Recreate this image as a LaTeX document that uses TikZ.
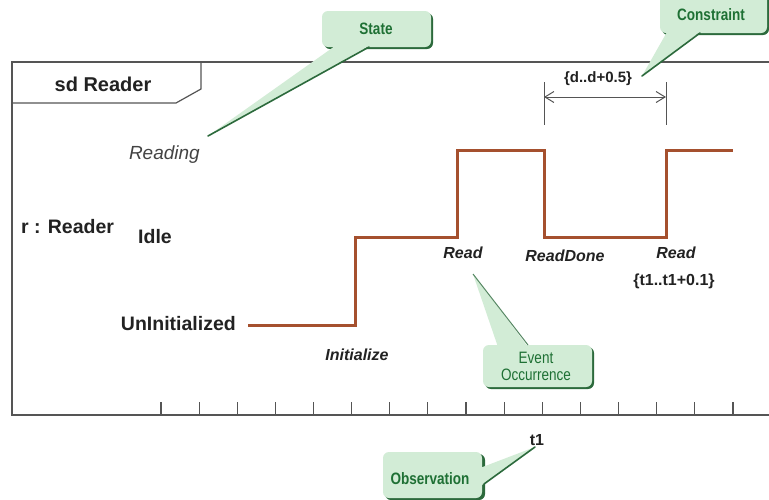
\documentclass[tikz,border=0pt]{standalone}
\usepackage{fontspec}
\setmainfont{Liberation Sans}
\usetikzlibrary{arrows.meta}

\definecolor{framegray}{HTML}{555555}
\definecolor{labelcol}{HTML}{222222}
\definecolor{signal}{HTML}{A5502E}
\definecolor{notefill}{HTML}{D2ECD6}
\definecolor{noteedge}{HTML}{2C6A3C}
\definecolor{notetext}{HTML}{1E7034}

\tikzset{
  frameline/.style={draw=framegray, line width=1.2pt},
  tickline/.style={draw=framegray, line width=1.1pt},
  signalline/.style={draw=signal, line width=3pt, line join=miter},
  dimline/.style={draw=framegray, line width=1pt},
  statename/.style={font=\fontsize{19.5}{21}\selectfont\bfseries, text=labelcol, inner sep=0pt},
  lifelinename/.style={font=\fontsize{19.5}{21}\selectfont\bfseries, text=labelcol, inner sep=0pt},
  activestate/.style={font=\fontsize{19}{21}\selectfont\itshape, text=labelcol!85, inner sep=0pt},
  eventname/.style={font=\fontsize{16}{18}\selectfont\bfseries\itshape, text=labelcol, inner sep=0pt},
  timetext/.style={font=\fontsize{16}{18}\selectfont\bfseries, text=labelcol, inner sep=0pt},
  notetextstyle/.style={font=\fontsize{16.5}{18}\selectfont\bfseries, text=notetext, inner sep=0pt},
  noteshadow/.style={fill=noteedge, rounded corners=6pt},
  notebody/.style={fill=notefill, rounded corners=6pt},
  notewedge/.style={fill=notefill},
  noteedgeline/.style={draw=noteedge, line width=1.6pt, line cap=round},
}

\newcommand{\narrow}[1]{\scalebox{0.82}[1]{#1}}

\begin{document}
\begin{tikzpicture}[x=1pt, y=-1pt]
  \clip (0,0) rectangle (769,499);
  \fill[white] (0,0) rectangle (769,499);

  % ---- diagram frame and its name tab ----
  \draw[frameline] (785,62) -- (12,62) -- (12,415) -- (785,415);
  \draw[frameline] (12,103) -- (176,103) -- (201,89) -- (201,62);
  \node[lifelinename] (title) at (103,84) {\fontsize{20}{22}\selectfont sd Reader};

  % ---- time ruler ----
  \foreach \i in {0,...,15}
    \draw[tickline] ({161+38.13*\i},402) -- ({161+38.13*\i},415);

  % ---- lifeline and state names ----
  \node[lifelinename, anchor=west] (lifeline) at (21,227) {r : Reader};
  \node[activestate, anchor=east] (sReading) at (200,155) {Reading};
  \node[statename, anchor=west] (sIdle) at (138,237) {Idle};
  \node[statename, anchor=east] (sUninit) at (236,324) {UnInitialized};

  % ---- state timeline ----
  \coordinate (p0) at (248,325);
  \coordinate (p1) at (355,325);
  \coordinate (p2) at (355,237);
  \coordinate (p3) at (457,237);
  \coordinate (p4) at (457,150);
  \coordinate (p5) at (544,150);
  \coordinate (p6) at (544,237);
  \coordinate (p7) at (666,237);
  \coordinate (p8) at (666,150);
  \coordinate (p9) at (733,150);
  \draw[signalline] (p0) -- (p1) -- (p2) -- (p3) -- (p4) -- (p5) -- (p6) -- (p7) -- (p8) -- (p9);

  % ---- event occurrences ----
  \node[eventname] (eInit) at (357,355) {Initialize};
  \node[eventname] (eRead1) at (463,253) {Read};
  \node[eventname] (eDone) at (565,256) {ReadDone};
  \node[eventname] (eRead2) at (676,253) {Read};
  \node[timetext] (tc) at (674,281) {\{t1..t1+0.1\}};

  % ---- duration constraint ----
  \coordinate (dL0) at (544,82);
  \coordinate (dL1) at (544,125);
  \coordinate (dR0) at (666,82);
  \coordinate (dR1) at (666,125);
  \coordinate (dA) at (544,97);
  \coordinate (dB) at (666,97);
  \draw[dimline] (dL0) -- (dL1);
  \draw[dimline] (dR0) -- (dR1);
  \draw[dimline, {Straight Barb[length=9pt,width=11pt]}-{Straight Barb[length=9pt,width=11pt]}] (dA) -- (dB);
  \node[timetext, font=\fontsize{15}{17}\selectfont\bfseries] (dc) at (598,79) {\{d..d+0.5\}};

  % ---- observation ----
  \node[timetext] (obs) at (537,440) {t1};

  % ---- callout: State ----
  \coordinate (stateTip) at (208,136);
  \fill[noteshadow] (324,13) rectangle (433,49);
  \fill[notewedge] (335,46) -- (stateTip) -- (369,46) -- cycle;
  \fill[notebody] (322,11) rectangle (431,47);
  \draw[noteedgeline] (369,47) -- (stateTip);
  \node[notetextstyle] (nState) at (376,29) {\narrow{State}};

  % ---- callout: Constraint ----
  \coordinate (consTip) at (642,76);
  \fill[noteshadow] (662,-8) rectangle (769,35);
  \fill[notewedge] (667,32) -- (consTip) -- (700,32) -- cycle;
  \fill[notebody] (660,-10) rectangle (767,33);
  \draw[noteedgeline] (700,33) -- (consTip);
  \node[notetextstyle] (nCons) at (711,15) {\narrow{Constraint}};

  % ---- callout: Event Occurrence ----
  \coordinate (evTip) at (473,274);
  \fill[noteshadow] (485,347) rectangle (594,389);
  \fill[notewedge] (498,347) -- (evTip) -- (528,347) -- cycle;
  \fill[notebody] (483,345) rectangle (592,387);
  \draw[draw=noteedge!80, line width=1pt] (528,345) -- (evTip);
  \node[notetextstyle, font=\fontsize{16.5}{18}\selectfont, align=center] (nEvent) at (536,366)
    {\narrow{Event}\\[-1pt]\narrow{Occurrence}};

  % ---- callout: Observation ----
  \coordinate (obsTip) at (535,447);
  \fill[noteshadow] (385,454) rectangle (485,500);
  \fill[notewedge] (480,468) -- (obsTip) -- (482,485) -- cycle;
  \fill[notebody] (383,452) rectangle (482,498);
  \draw[noteedgeline] (484,484) -- (obsTip);
  \node[notetextstyle] (nObs) at (430,479) {\narrow{Observation}};
\end{tikzpicture}
\end{document}
